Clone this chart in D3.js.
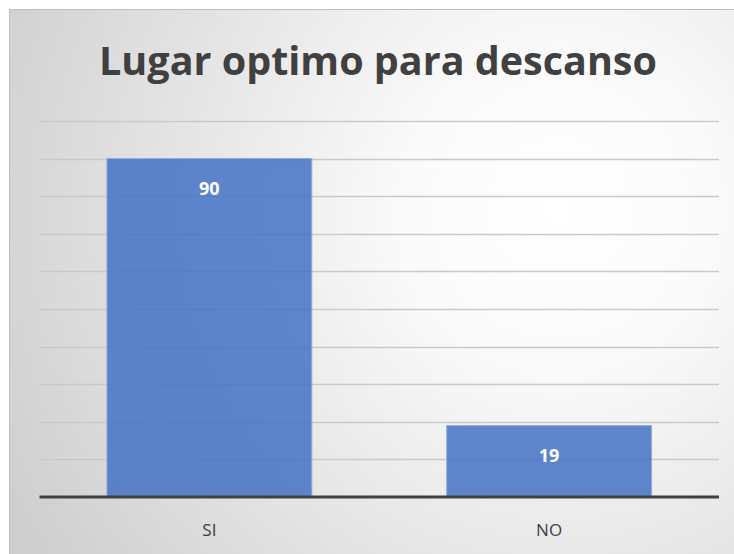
<!doctype html>
<html lang="es">
<head>
  <meta charset="utf-8">
  <title>Lugar optimo para descanso</title>
  <style type="text/css">
    body{ margin:0; background:#fff; }
    text{ font-family: "Open Sans", "Noto Sans", sans-serif; }
    .grid line{ stroke:#c9c9c9; stroke-width:1.3; }
  </style>
</head>
<body>
  <div id="vis"></div>
  <script src="https://cdn.jsdelivr.net/npm/d3@7"></script>
  <script type="text/javascript">

    var categories = ['SI', 'NO'],
      values = [90, 19],
      gridTicks = [0,10,20,30,40,50,60,70,80,90,100],
      title = 'Lugar optimo para descanso';

    var width = 734,
      height = 554;

    var margin = {left:39.5, right:15, top:121, bottom:57};

    var svg = d3.select('#vis').append('svg')
      .attr('width', width)
      .attr('height', height);

    var defs = svg.append('defs');
    var grad = defs.append('radialGradient')
      .attr('id', 'bg')
      .attr('gradientUnits', 'userSpaceOnUse')
      .attr('cx', 560).attr('cy', 210).attr('r', 620);
    grad.append('stop').attr('offset', '0').attr('stop-color', '#ffffff');
    grad.append('stop').attr('offset', '0.25').attr('stop-color', '#fafafa');
    grad.append('stop').attr('offset', '1').attr('stop-color', '#cfcfcf');

    // chart area
    svg.append('rect')
      .attr('x', 9.5).attr('y', 9.5)
      .attr('width', width).attr('height', height)
      .style('fill', 'url(#bg)')
      .style('stroke', '#bfbfbf')
      .style('stroke-width', 1);

    var x = d3.scaleBand()
      .domain(categories)
      .range([margin.left, width - margin.right])
      .paddingInner(0.397)
      .paddingOuter(0.1985);

    var y = d3.scaleLinear()
      .domain([0, 100])
      .range([height - margin.bottom, margin.top]);

    svg.append('text')
      .attr('x', 378)
      .attr('y', 75)
      .attr('text-anchor', 'middle')
      .style('font-size', '39.5px')
      .style('font-weight', 'bold')
      .style('fill', '#404040')
      .text(title);

    svg.append('g')
      .attr('class', 'grid')
      .selectAll('line')
      .data(gridTicks.slice(1))
      .enter().append('line')
        .attr('x1', margin.left)
        .attr('x2', width - margin.right)
        .attr('y1', function(d){ return Math.round(y(d)) + 0.5; })
        .attr('y2', function(d){ return Math.round(y(d)) + 0.5; });

    var bars = svg.append('g');
    bars.selectAll('rect')
      .data(values)
      .enter().append('rect')
        .attr('x', function(d,i){ return x(categories[i]); })
        .attr('y', function(d){ return y(d); })
        .attr('width', x.bandwidth())
        .attr('height', function(d){ return y(0) - y(d); })
        .style('fill', '#4472c4')
        .style('fill-opacity', 0.85)
        .style('stroke', '#8faadc')
        .style('stroke-width', 1);

    bars.selectAll('text')
      .data(values)
      .enter().append('text')
        .attr('x', function(d,i){ return x(categories[i]) + x.bandwidth()/2; })
        .attr('y', function(d){ return y(d) + 36; })
        .attr('text-anchor', 'middle')
        .style('font-size', '18px')
        .style('font-weight', 'bold')
        .style('fill', '#ffffff')
        .text(function(d){ return d; });

    // baseline
    svg.append('line')
      .attr('x1', margin.left)
      .attr('x2', width - margin.right)
      .attr('y1', y(0))
      .attr('y2', y(0))
      .style('stroke', '#404040')
      .style('stroke-width', 3);

    var xAxis = d3.axisBottom(x).tickSize(0).tickPadding(0);
    var gx = svg.append('g')
      .attr('transform', 'translate(0,' + (y(0) + 39) + ')')
      .call(xAxis);
    gx.select('.domain').remove();
    gx.selectAll('text')
      .attr('dy', 0)
      .style('font-size', '17px')
      .style('font-family', '"Open Sans", "Noto Sans", sans-serif')
      .style('fill', '#404040');

  </script>
</body>
</html>
